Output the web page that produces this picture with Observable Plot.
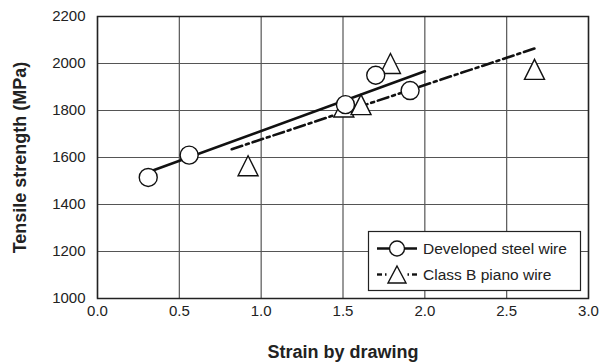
<!DOCTYPE html>
<html>
<head>
<meta charset="utf-8">
<script src="https://cdn.jsdelivr.net/npm/d3@7"></script>
<script src="https://cdn.jsdelivr.net/npm/@observablehq/plot@0.6"></script>
<style>
  html, body { margin: 0; padding: 0; background: white; }
  #wrap { position: relative; width: 600px; height: 362px; font-family: "Liberation Sans", Arial, sans-serif; }
  #legend { position: absolute; left: 0; top: 0; pointer-events: none; }
</style>
</head>
<body>
<div id="wrap"></div>
<script>
// Developed steel wire (circles)
const devStrain = [0.31, 0.56, 1.515, 1.70, 1.91];
const devStrength = [1515, 1610, 1825, 1950, 1885];
// Class B piano wire (triangles)
const pianoStrain = [0.92, 1.505, 1.61, 1.79, 2.67];
const pianoStrength = [1565, 1815, 1825, 2000, 1975];
// Trend lines
const devFitStrain = [0.30, 2.00];
const devFitStrength = [1535, 1967];
const pianoFitStrain = [0.82, 2.675];
const pianoFitStrength = [1635, 2065];
// Ticks
const xTicks = [0, 0.5, 1.0, 1.5, 2.0, 2.5, 3.0];
const yTicks = [1000, 1200, 1400, 1600, 1800, 2000, 2200];
const seriesNames = ["Developed steel wire", "Class B piano wire"];
const xTitle = "Strain by drawing";
const yTitle = "Tensile strength (MPa)";

const dev = devStrain.map((x, i) => ({x, y: devStrength[i]}));
const piano = pianoStrain.map((x, i) => ({x, y: pianoStrength[i]}));
const devFit = devFitStrain.map((x, i) => ({x, y: devFitStrength[i]}));
const pianoFit = pianoFitStrain.map((x, i) => ({x, y: pianoFitStrength[i]}));

// triangle with equal width and height, centered on its bounding box
const tri = {
  draw(ctx, size) {
    const s = Math.sqrt(size / Math.PI);
    ctx.moveTo(0, -s);
    ctx.lineTo(s, s);
    ctx.lineTo(-s, s);
    ctx.closePath();
  }
};

const font = "'Liberation Sans', Arial, sans-serif";

const chart = Plot.plot({
  width: 600,
  height: 362,
  marginLeft: 97,
  marginRight: 12,
  marginTop: 16,
  marginBottom: 64,
  style: {fontFamily: font, fontSize: "15px", color: "#222", background: "white", overflow: "visible"},
  x: {domain: [0, 3], ticks: xTicks},
  y: {domain: [1000, 2200], ticks: yTicks},
  marks: [
    Plot.gridX(xTicks, {stroke: "#555", strokeOpacity: 1, strokeWidth: 1.2}),
    Plot.gridY(yTicks, {stroke: "#555", strokeOpacity: 1, strokeWidth: 1.2}),
    Plot.frame({stroke: "#222", strokeWidth: 1.5}),
    Plot.axisX(xTicks, {tickSize: 0, tickPadding: 7, tickFormat: d3.format(".1f"), label: null, fontSize: 15}),
    Plot.axisY(yTicks, {tickSize: 0, tickPadding: 12, tickFormat: d3.format("d"), label: null, fontSize: 15}),
    Plot.line(devFit, {x: "x", y: "y", stroke: "#111", strokeWidth: 2.6}),
    Plot.line(pianoFit, {x: "x", y: "y", stroke: "#111", strokeWidth: 2.6, strokeDasharray: "11,4,3,4"}),
    Plot.dot(piano, {x: "x", y: "y", symbol: tri, r: 10, fill: "white", stroke: "#111", strokeWidth: 1.4}),
    Plot.dot(dev, {x: "x", y: "y", r: 9, fill: "white", stroke: "#111", strokeWidth: 1.4}),
    Plot.text([xTitle], {text: d => d, frameAnchor: "bottom", textAnchor: "middle", lineAnchor: "middle", dy: 54, fontSize: 18, fontWeight: "bold", fill: "#222"}),
    Plot.text([yTitle], {text: d => d, frameAnchor: "left", textAnchor: "middle", lineAnchor: "middle", dx: -77, rotate: -90, fontSize: 18, fontWeight: "bold", fill: "#222"})
  ]
});

const wrap = document.getElementById("wrap");
wrap.appendChild(chart);

// Legend overlay
const ns = "http://www.w3.org/2000/svg";
const leg = d3.select(wrap).append("svg")
  .attr("id", "legend")
  .attr("width", 600).attr("height", 362)
  .attr("xmlns", ns);
leg.append("rect").attr("x", 368.5).attr("y", 231.5).attr("width", 212).attr("height", 59)
  .attr("fill", "white").attr("stroke", "#222").attr("stroke-width", 1.2);
// row 1
leg.append("line").attr("x1", 377).attr("x2", 417).attr("y1", 248.5).attr("y2", 248.5)
  .attr("stroke", "#111").attr("stroke-width", 2.6);
leg.append("circle").attr("cx", 397).attr("cy", 248.5).attr("r", 7.5)
  .attr("fill", "white").attr("stroke", "#111").attr("stroke-width", 1.4);
// row 2
const ry = 274.5;
[[377, 382], [385, 386.5], [407.5, 409], [412, 417]].forEach(([a, b]) => {
  leg.append("line").attr("x1", a).attr("x2", b).attr("y1", ry).attr("y2", ry)
    .attr("stroke", "#111").attr("stroke-width", 2.4);
});
leg.append("path").attr("d", `M397,${ry - 8.5}L406,${ry + 8.5}L388,${ry + 8.5}Z`)
  .attr("fill", "white").attr("stroke", "#111").attr("stroke-width", 1.4);
leg.selectAll("text.l").data(seriesNames).join("text")
  .attr("x", 423).attr("y", (d, i) => i === 0 ? 254 : 279.7)
  .attr("font-family", font).attr("font-size", 15.5).attr("fill", "#222")
  .text(d => d);
</script>
</body>
</html>
